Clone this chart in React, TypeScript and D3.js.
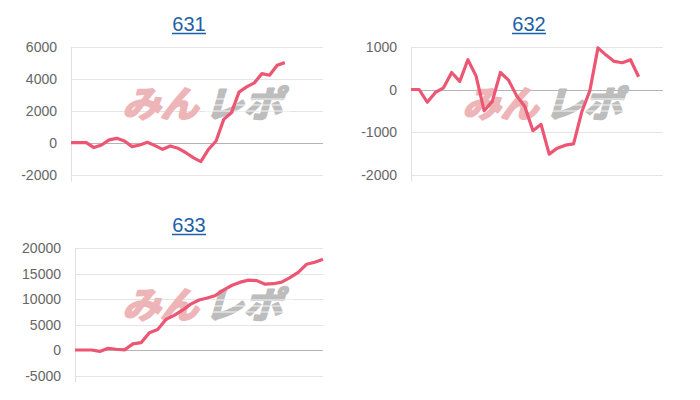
import * as d3 from "d3";

// x slots per chart (days shown on the category axis, labels hidden)
const days631 = d3.range(1, 35).map(String);
const days632 = d3.range(1, 33).map(String);
const days633 = d3.range(1, 32).map(String);

// cumulative difference per day
const values631 = [0, 0, 0, -310, -150, 170, 270, 100, -250, -150, 20, -190, -420, -210, -350, -620, -940, -1190, -420, 100, 1460, 1870, 3170, 3500, 3750, 4330, 4230, 4850, 5020];
const values632 = [0, 0, -300, -70, 40, 400, 190, 700, 320, -500, -280, 400, 220, -150, -400, -970, -820, -1520, -1380, -1310, -1280, -530, -30, 980, 810, 660, 630, 700, 300];
const values633 = [0, 0, 0, -280, 350, 150, 30, 1200, 1450, 3400, 4000, 6000, 6800, 7800, 9000, 9800, 10200, 10700, 11800, 12700, 13300, 13700, 13600, 12900, 13000, 13300, 14200, 15200, 16800, 17200, 17800];

const ticks631 = [6000, 4000, 2000, 0, -2000];
const ticks632 = [1000, 0, -1000, -2000];
const ticks633 = [20000, 15000, 10000, 5000, 0, -5000];

const LINE = "#ec5673";
const FONT = "Arial, 'Liberation Sans', sans-serif";

type PanelProps = {
  title: string;
  days: string[];
  values: number[];
  ticks: number[];
  ox: number;
  oy: number;
  left: number;
};

function Panel({ title, days, values, ticks, ox, oy, left }: PanelProps) {
  const top = 47, bottom = 174.5, right = 323;
  const x = d3.scalePoint<string>().domain(days).range([left, right]);
  const y = d3.scaleLinear().domain(d3.extent(ticks) as [number, number]).range([bottom, top]);
  const line = d3
    .line<number>()
    .x((d, i) => x(days[i]) as number)
    .y((d) => y(d));

  return (
    <g transform={`translate(${ox},${oy})`}>
      <text x={189} y={31} textAnchor="middle" fontFamily={FONT} fontSize={20} fill="#1d5fa6">
        {title}
      </text>
      <line x1={172} x2={206} y1={33.5} y2={33.5} stroke="#1d5fa6" strokeWidth={1.3} />

      {ticks.map((t) => (
        <g key={t}>
          <line
            x1={left}
            x2={right}
            y1={Math.round(y(t)) + 0.5}
            y2={Math.round(y(t)) + 0.5}
            stroke={t === 0 ? "#b4b4b4" : "#e4e4e4"}
            strokeWidth={1}
          />
          <text
            x={left - 14}
            y={y(t)}
            textAnchor="end"
            dominantBaseline="central"
            fontFamily={FONT}
            fontSize={14}
            fill="#666"
          >
            {t}
          </text>
        </g>
      ))}
      <line x1={left + 0.5} x2={left + 0.5} y1={top} y2={bottom + 7} stroke="#e0e0e0" />

      {/* watermark */}
      <g
        fontFamily="'Noto Sans CJK JP', sans-serif"
        fontWeight={700}
        fontSize={36}
        strokeLinejoin="round"
        transform="translate(206,104) skewX(-16) translate(-206,-104)"
      >
        <text x={126} y={117} textLength={76} lengthAdjust="spacingAndGlyphs" fill="#eeb5b8" stroke="#eeb5b8" strokeWidth={2.2}>
          みん
        </text>
        <text x={208} y={117} textLength={78} lengthAdjust="spacingAndGlyphs" fill="#bdbdbd" stroke="#bdbdbd" strokeWidth={2.2}>
          レポ
        </text>
        {[99, 105, 111].map((sy) => (
          <line key={sy} x1={206} x2={292} y1={sy} y2={sy} stroke="#fff" strokeWidth={1.2} opacity={0.9} />
        ))}
      </g>

      <path d={line(values) ?? ""} fill="none" stroke={LINE} strokeWidth={3.2} strokeLinejoin="round" />
    </g>
  );
}

export default function App() {
  return (
    <svg
      width={700}
      height={400}
      style={{ position: "absolute", left: 0, top: 0, background: "#fff" }}
    >
      <Panel title="631" days={days631} values={values631} ticks={ticks631} ox={0} oy={0} left={71} />
      <Panel title="632" days={days632} values={values632} ticks={ticks632} ox={340} oy={0} left={71} />
      <Panel title="633" days={days633} values={values633} ticks={ticks633} ox={0} oy={201} left={75} />
    </svg>
  );
}
